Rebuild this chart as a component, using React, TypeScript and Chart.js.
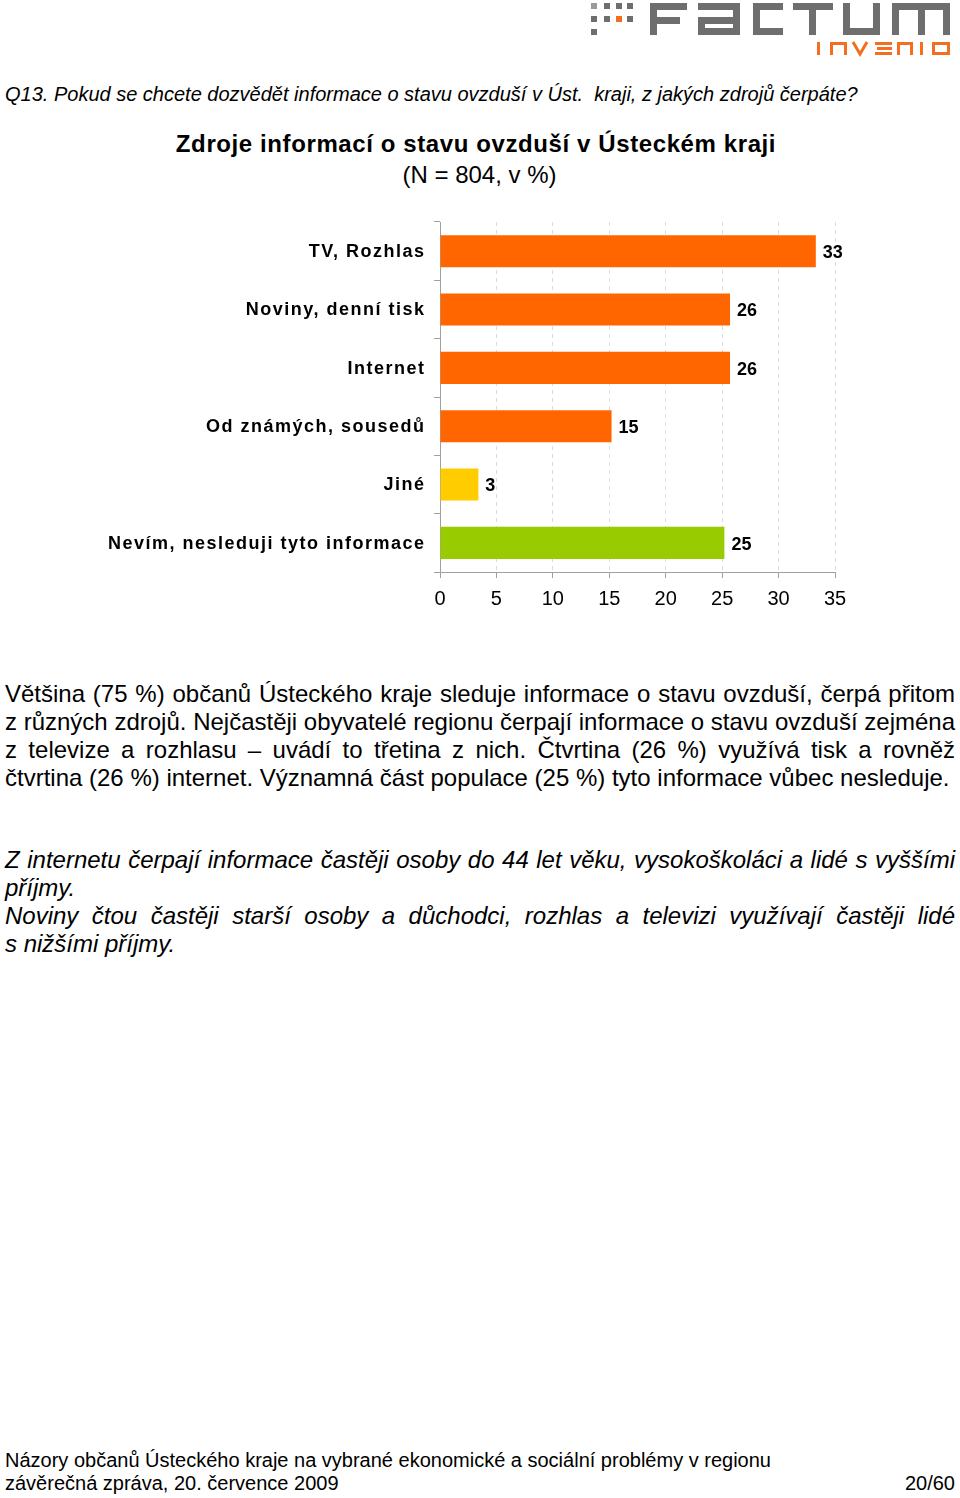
import React, { useEffect, useRef } from "react";
import { Chart, registerables } from "chart.js";

Chart.register(...registerables);

const categories = [
  "TV, Rozhlas",
  "Noviny, denní tisk",
  "Internet",
  "Od známých, sousedů",
  "Jiné",
  "Nevím, nesleduji tyto informace",
];
const values = [33.3, 25.7, 25.7, 15.2, 3.4, 25.2];
const valueLabels = ["33", "26", "26", "15", "3", "25"];
const barColors = ["#FF6600", "#FF6600", "#FF6600", "#FF6600", "#FFCC00", "#99CC00"];
const xMin = 0;
const xMax = 35;
const xStep = 5;

const FONT = '"Liberation Sans", Arial, Helvetica, sans-serif';

const yLabelPlugin = {
  id: "yLabelPlugin",
  afterDraw(chart: any) {
    const ctx = chart.ctx;
    const y = chart.scales.y;
    ctx.save();
    ctx.font = `bold 18px ${FONT}`;
    (ctx as any).letterSpacing = "1.5px";
    ctx.textAlign = "right";
    ctx.textBaseline = "middle";
    ctx.fillStyle = "#000";
    categories.forEach((c, i) => {
      ctx.fillText(c, chart.chartArea.left - 16 + 1.5, y.getPixelForValue(i) + 1);
    });
    ctx.restore();
  },
};

const valueLabelPlugin = {
  id: "valueLabelPlugin",
  afterDatasetsDraw(chart: any) {
    const ctx = chart.ctx;
    const meta = chart.getDatasetMeta(0);
    ctx.save();
    ctx.font = `bold 18px ${FONT}`;
    ctx.textAlign = "left";
    ctx.textBaseline = "middle";
    ctx.fillStyle = "#000";
    meta.data.forEach((bar: any, i: number) => {
      ctx.fillText(valueLabels[i], bar.x + 7, bar.y + 2);
    });
    ctx.restore();
  },
};

function Logo() {
  const G = "#6e6e6e";
  const O = "#f26f21";
  const r = (x: number, y: number, w: number, h: number, c: string, k: string) => (
    <rect key={k} x={x} y={y} width={w} height={h} fill={c} />
  );
  return (
    <svg width={960} height={60} style={{ position: "absolute", left: 0, top: 0 }}>
      {r(591, 3, 6, 6, "#9a9a9a", "d1")}
      {r(604, 3, 6, 6, G, "d2")}
      {r(616, 3, 6, 6, G, "d3")}
      {r(627, 3, 6, 6, G, "d4")}
      {r(591, 16, 6, 6, G, "d5")}
      {r(604, 16, 6, 6, G, "d6")}
      {r(616, 16, 6, 6, O, "d7")}
      {r(627, 16, 6, 6, G, "d8")}
      {r(591, 29, 6, 6, G, "d9")}
      {r(650, 3, 37, 7, G, "f1")}
      {r(650, 3, 7, 32, G, "f2")}
      {r(650, 17, 30, 7, G, "f3")}
      {r(698, 3, 42, 7, G, "a1")}
      {r(733, 3, 7, 32, G, "a2")}
      {r(698, 17, 42, 7, G, "a3")}
      {r(698, 17, 7, 18, G, "a4")}
      {r(698, 28, 42, 7, G, "a5")}
      {r(753, 3, 30, 7, G, "c1")}
      {r(753, 3, 7, 32, G, "c2")}
      {r(753, 28, 30, 7, G, "c3")}
      {r(793, 3, 40, 7, G, "t1")}
      {r(809, 3, 7, 32, G, "t2")}
      {r(843, 3, 7, 32, G, "u1")}
      {r(873, 3, 7, 32, G, "u2")}
      {r(843, 28, 37, 7, G, "u3")}
      {r(892, 3, 58, 7, G, "m1")}
      {r(892, 3, 7, 32, G, "m2")}
      {r(918, 3, 7, 32, G, "m3")}
      {r(943, 3, 7, 32, G, "m4")}
      {r(817, 42, 3, 13, O, "i1")}
      {r(830, 42, 3, 13, O, "n1")}
      {r(830, 42, 17, 3, O, "n2")}
      {r(844, 42, 3, 13, O, "n3")}
      <polyline points="853,42 860,54 867,42" fill="none" stroke={O} strokeWidth={3} />
      {r(875, 42, 17, 3, O, "e1")}
      {r(877, 47, 15, 3, O, "e2")}
      {r(875, 52, 17, 3, O, "e3")}
      {r(897, 42, 3, 13, O, "n4")}
      {r(897, 42, 16, 3, O, "n5")}
      {r(910, 42, 3, 13, O, "n6")}
      {r(920, 42, 3, 13, O, "i2")}
      <rect x={933.5} y={43.5} width={15} height={10} fill="none" stroke={O} strokeWidth={3} />
    </svg>
  );
}

const abs = (top: number, extra: React.CSSProperties = {}): React.CSSProperties => ({
  position: "absolute",
  top,
  left: 5,
  width: 950,
  fontFamily: FONT,
  color: "#000",
  margin: 0,
  ...extra,
});

const justLine: React.CSSProperties = { textAlign: "justify", textAlignLast: "justify", whiteSpace: "nowrap" };

export default function App() {
  const canvasRef = useRef<HTMLCanvasElement | null>(null);

  useEffect(() => {
    if (!canvasRef.current) return;
    Chart.defaults.font.family = FONT;
    const chart = new Chart(canvasRef.current, {
      type: "bar",
      data: {
        labels: categories,
        datasets: [
          {
            data: values,
            backgroundColor: barColors,
            borderWidth: 0,
            barPercentage: 0.55,
            categoryPercentage: 1,
          },
        ],
      },
      options: {
        indexAxis: "y",
        responsive: false,
        animation: false,
        devicePixelRatio: 1,
        layout: { padding: { top: 22, right: 125, left: 0, bottom: 0 } },
        plugins: {
          legend: { display: false },
          tooltip: { enabled: false },
          title: { display: false },
        },
        scales: {
          x: {
            min: xMin,
            max: xMax,
            ticks: {
              stepSize: xStep,
              color: "#000",
              font: { size: 20, family: FONT },
              padding: 9,
            },
            grid: {
              display: true,
              drawOnChartArea: true,
              drawTicks: true,
              tickLength: 6,
              color: "#dcdcdc",
              tickColor: "#a0a0a0",
              lineWidth: 1,
            },
            border: { display: true, color: "#a0a0a0", dash: [4, 4] },
            afterFit: (scale: any) => {
              scale.height = 58;
            },
          },
          y: {
            type: "category",
            ticks: { display: false },
            grid: {
              display: true,
              offset: true,
              drawOnChartArea: false,
              drawTicks: true,
              tickLength: 6,
              color: "#a0a0a0",
              tickColor: "#a0a0a0",
            },
            border: { display: true, color: "#a0a0a0" },
            afterFit: (scale: any) => {
              scale.width = 440;
            },
          },
        },
      },
      plugins: [yLabelPlugin, valueLabelPlugin],
    } as any);
    return () => chart.destroy();
  }, []);

  return (
    <div style={{ position: "absolute", left: 0, top: 0, width: 960, height: 1498, background: "#fff", overflow: "hidden" }}>
      <Logo />
      <div style={abs(80, { fontStyle: "italic", fontSize: 20, lineHeight: "28px", whiteSpace: "pre" })}>
        {"Q13. Pokud se chcete dozvědět informace o stavu ovzduší v Úst.  kraji, z jakých zdrojů čerpáte?"}
      </div>
      <div
        style={{
          position: "absolute",
          left: 0,
          top: 130,
          width: 952,
          textAlign: "center",
          fontFamily: FONT,
          fontWeight: "bold",
          fontSize: 24,
          lineHeight: "28px",
          letterSpacing: "0.6px",
        }}
      >
        Zdroje informací o stavu ovzduší v Ústeckém kraji
      </div>
      <div
        style={{
          position: "absolute",
          left: 0,
          top: 161,
          width: 959,
          textAlign: "center",
          fontFamily: FONT,
          fontSize: 24,
          lineHeight: "28px",
        }}
      >
        (N = 804, v %)
      </div>
      <canvas ref={canvasRef} width={960} height={430} style={{ position: "absolute", left: 0, top: 200, width: 960, height: 430 }} />
      <div style={abs(680, { fontSize: 24, lineHeight: "28px" })}>
        <div style={justLine}>Většina (75 %) občanů Ústeckého kraje sleduje informace o stavu ovzduší, čerpá přitom</div>
        <div style={justLine}>z různých zdrojů. Nejčastěji obyvatelé regionu čerpají informace o stavu ovzduší zejména</div>
        <div style={justLine}>z{"\u00a0"}televize a rozhlasu – uvádí to třetina z{"\u00a0"}nich. Čtvrtina (26 %) využívá tisk a rovněž</div>
        <div style={{ whiteSpace: "nowrap" }}>čtvrtina (26 %) internet. Významná část populace (25 %) tyto informace vůbec nesleduje.</div>
      </div>
      <div style={abs(846, { fontSize: 24, lineHeight: "28px", fontStyle: "italic" })}>
        <div style={justLine}>Z internetu čerpají informace častěji osoby do 44 let věku, vysokoškoláci a lidé s vyššími</div>
        <div style={{ whiteSpace: "nowrap" }}>příjmy.</div>
        <div style={justLine}>Noviny čtou častěji starší osoby a důchodci, rozhlas a televizi využívají častěji lidé</div>
        <div style={{ whiteSpace: "nowrap" }}>s nižšími příjmy.</div>
      </div>
      <div style={abs(1449, { fontSize: 20, lineHeight: "23px" })}>
        <div style={{ whiteSpace: "nowrap" }}>Názory občanů Ústeckého kraje na vybrané ekonomické a sociální problémy v regionu</div>
        <div style={{ display: "flex", justifyContent: "space-between", whiteSpace: "nowrap" }}>
          <span>závěrečná zpráva, 20. července 2009</span>
          <span>20/60</span>
        </div>
      </div>
    </div>
  );
}
